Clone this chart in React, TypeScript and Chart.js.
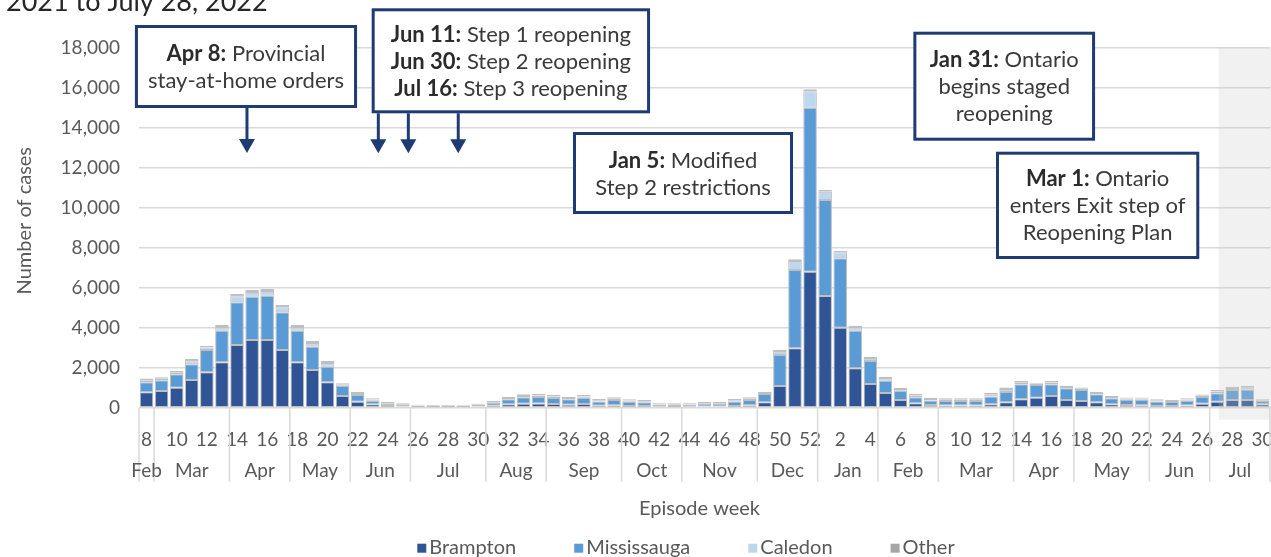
import React, { useEffect, useRef } from 'react';
import { Chart, registerables } from 'chart.js';

Chart.register(...registerables);

const FONT = 'Lato, "Open Sans", sans-serif';
const NAVY = '#1f3b73';
const TICK = '#595959';

// Episode weeks: 2021 week 8 .. 52, then 2022 week 1 .. 30
const weekLabels = [
  '8', '9', '10', '11', '12', '13', '14', '15', '16', '17', '18', '19', '20', '21', '22', '23', '24', '25', '26', '27',
  '28', '29', '30', '31', '32', '33', '34', '35', '36', '37', '38', '39', '40', '41', '42', '43', '44', '45', '46', '47',
  '48', '49', '50', '51', '52',
  '1', '2', '3', '4', '5', '6', '7', '8', '9', '10', '11', '12', '13', '14', '15', '16', '17', '18', '19', '20',
  '21', '22', '23', '24', '25', '26', '27', '28', '29', '30',
];

const brampton = [
  770, 830, 1000, 1380, 1770, 2270, 3130, 3380, 3380, 2880, 2270, 1880, 1270, 580, 300, 170, 90, 60, 40, 35,
  35, 40, 60, 100, 170, 200, 210, 190, 150, 180, 100, 120, 90, 80, 50, 40, 50, 60, 60, 90,
  120, 270, 1085, 2970, 6800,
  5580, 4000, 1970, 1180, 730, 380, 220, 130, 110, 110, 110, 170, 270, 420, 500, 580, 380, 330, 270, 170,
  130, 120, 90, 80, 110, 200, 300, 380, 380, 170,
];
const mississauga = [
  500, 540, 670, 790, 1110, 1580, 2140, 2170, 2220, 1890, 1580, 1170, 780, 520, 330, 180, 110, 80, 50, 45,
  45, 50, 70, 130, 250, 320, 330, 300, 270, 320, 210, 270, 210, 190, 110, 100, 110, 140, 140, 220,
  270, 410, 1550, 3910, 8200,
  4800, 3470, 1880, 1150, 620, 470, 300, 230, 220, 220, 220, 390, 520, 750, 630, 590, 590, 550, 400, 300,
  270, 280, 220, 200, 240, 330, 420, 500, 530, 160,
];
const caledon = [
  80, 80, 100, 150, 130, 180, 300, 230, 230, 250, 180, 180, 180, 70, 100, 60, 40, 30, 20, 15,
  15, 15, 20, 40, 60, 70, 70, 70, 60, 60, 60, 60, 60, 50, 40, 30, 40, 40, 40, 60,
  60, 60, 200, 460, 820,
  420, 300, 180, 150, 130, 90, 90, 70, 70, 70, 70, 110, 140, 100, 50, 90, 70, 70, 70, 60,
  60, 60, 60, 50, 60, 70, 90, 100, 110, 40,
];
const other = [
  110, 70, 80, 110, 90, 100, 110, 100, 100, 110, 100, 100, 100, 50, 70, 60, 60, 50, 40, 40,
  40, 40, 50, 60, 70, 80, 80, 70, 70, 70, 60, 70, 60, 60, 50, 50, 50, 60, 60, 60,
  70, 60, 60, 80, 100,
  80, 70, 70, 60, 70, 60, 70, 70, 70, 70, 70, 80, 80, 80, 40, 70, 60, 60, 60, 50,
  50, 50, 50, 50, 60, 60, 70, 70, 80, 50,
];

const seriesNames = ['Brampton', 'Mississauga', 'Caledon', 'Other'];
const seriesColors = ['#2F5597', '#5B9BD5', '#BDD7EE', '#A5A5A5'];

const monthLabels = ['Feb', 'Mar', 'Apr', 'May', 'Jun', 'Jul', 'Aug', 'Sep', 'Oct', 'Nov', 'Dec', 'Jan', 'Feb', 'Mar', 'Apr', 'May', 'Jun', 'Jul'];
const monthWeekCounts = [1, 5, 4, 4, 4, 5, 4, 5, 4, 5, 4, 4, 4, 5, 4, 5, 4, 4];

const yMax = 18000;
const yStep = 2000;

const titleText = '2021 to July 28, 2022';
const xTitle = 'Episode week';
const yTitle = 'Number of cases';

// index from which data are incomplete (shaded)
const shadeFromIndex = 71.1;

type Annot = {
  x0: number; x1: number; y0: number; y1: number;
  lines: [string, string][];
  arrows: { x: number; tip: number }[];
};

// positions in axis units (category index, case count)
const annotations: Annot[] = [
  {
    x0: -0.77, x1: 13.96, y0: 19135, y1: 14985,
    lines: [['Apr 8:', ' Provincial'], ['', 'stay-at-home orders']],
    arrows: [{ x: 6.66, tip: 12735 }],
  },
  {
    x0: 14.93, x1: 33.39, y0: 19970, y1: 14720,
    lines: [['Jun 11:', ' Step 1 reopening'], ['Jun 30:', ' Step 2 reopening'], ['Jul 16:', ' Step 3 reopening']],
    arrows: [{ x: 15.37, tip: 12720 }, { x: 17.36, tip: 12720 }, { x: 20.67, tip: 12720 }],
  },
  {
    x0: 28.28, x1: 42.87, y0: 13785, y1: 9685,
    lines: [['Jan 5:', ' Modified'], ['', 'Step 2 restrictions']],
    arrows: [],
  },
  {
    x0: 50.85, x1: 62.9, y0: 18800, y1: 13350,
    lines: [['Jan 31:', ' Ontario'], ['', 'begins staged'], ['', 'reopening']],
    arrows: [],
  },
  {
    x0: 56.33, x1: 69.81, y0: 12800, y1: 7435,
    lines: [['Mar 1:', ' Ontario'], ['', 'enters Exit step of'], ['', 'Reopening Plan']],
    arrows: [],
  },
];

const shadePlugin = {
  id: 'shade',
  afterDatasetsDraw(chart: any) {
    const { ctx, chartArea, scales } = chart;
    const x0 = scales.x.getPixelForValue(shadeFromIndex);
    ctx.save();
    ctx.fillStyle = 'rgba(200,200,200,0.25)';
    ctx.fillRect(x0, chartArea.top, chart.width - x0, chartArea.bottom - chartArea.top + 12);
    ctx.restore();
  },
};

const decorPlugin = {
  id: 'decor',
  afterDraw(chart: any) {
    const { ctx, chartArea, scales } = chart;
    const xs = scales.x;
    const ys = scales.y;
    const bottom = chartArea.bottom;
    ctx.save();

    // month separators
    ctx.strokeStyle = '#D9D9D9';
    ctx.lineWidth = 1.5;
    let start = 0;
    const bounds = [xs.getPixelForValue(-0.5)];
    monthWeekCounts.forEach((c) => {
      start += c;
      bounds.push(xs.getPixelForValue(start - 0.5));
    });
    bounds.forEach((b) => {
      ctx.beginPath();
      ctx.moveTo(b, bottom);
      ctx.lineTo(b, bottom + 74);
      ctx.stroke();
    });

    // month labels
    ctx.fillStyle = TICK;
    ctx.font = `19px ${FONT}`;
    ctx.textAlign = 'center';
    ctx.textBaseline = 'alphabetic';
    start = 0;
    monthLabels.forEach((m, i) => {
      const c = monthWeekCounts[i];
      ctx.fillText(m, xs.getPixelForValue(start + (c - 1) / 2), bottom + 69);
      start += c;
    });

    // axis titles
    ctx.font = `20px ${FONT}`;
    ctx.fillText(xTitle, (chartArea.left + chartArea.right) / 2 - 5, bottom + 107);
    ctx.save();
    ctx.translate(31, (chartArea.top + chartArea.bottom) / 2 - 7);
    ctx.rotate(-Math.PI / 2);
    ctx.fillText(yTitle, 0, 0);
    ctx.restore();

    // legend
    ctx.font = `20px ${FONT}`;
    ctx.textAlign = 'left';
    const sq = 9, gapT = 3, gapI = 58;
    const widths = seriesNames.map((n) => sq + gapT + ctx.measureText(n).width);
    const total = widths.reduce((a, b) => a + b, 0) + gapI * (seriesNames.length - 1);
    let lx = 686 - total / 2;
    const base = bottom + 146;
    seriesNames.forEach((n, i) => {
      ctx.fillStyle = seriesColors[i];
      ctx.fillRect(lx, base - 10, sq, sq);
      ctx.fillStyle = TICK;
      ctx.fillText(n, lx + sq + gapT, base);
      lx += widths[i] + gapI;
    });

    // title (cut at top)
    ctx.fillStyle = '#262626';
    ctx.font = `27px ${FONT}`;
    ctx.fillText(titleText, 6, 11);

    // annotations
    annotations.forEach((a) => {
      const px0 = xs.getPixelForValue(a.x0);
      const px1 = xs.getPixelForValue(a.x1);
      const py0 = ys.getPixelForValue(a.y0);
      const py1 = ys.getPixelForValue(a.y1);
      ctx.fillStyle = '#ffffff';
      ctx.fillRect(px0, py0, px1 - px0, py1 - py0);
      ctx.strokeStyle = NAVY;
      ctx.lineWidth = 3;
      ctx.strokeRect(px0 + 1.5, py0 + 1.5, px1 - px0 - 3, py1 - py0 - 3);

      const cx = (px0 + px1) / 2;
      const cy = (py0 + py1) / 2 + 1;
      const lh = 27;
      ctx.textBaseline = 'middle';
      ctx.textAlign = 'left';
      a.lines.forEach(([b, r], i) => {
        const y = cy + (i - (a.lines.length - 1) / 2) * lh;
        ctx.font = `bold 22px ${FONT}`;
        const wb = b ? ctx.measureText(b).width : 0;
        ctx.font = `22px ${FONT}`;
        const wr = ctx.measureText(r).width;
        let x = cx - (wb + wr) / 2;
        if (b) {
          ctx.font = `bold 22px ${FONT}`;
          ctx.fillStyle = '#2b2b2b';
          ctx.fillText(b, x, y);
          x += wb;
        }
        ctx.font = `22px ${FONT}`;
        ctx.fillStyle = '#3a3a3a';
        ctx.fillText(r, x, y);
      });

      a.arrows.forEach((ar) => {
        const ax = xs.getPixelForValue(ar.x);
        const tip = ys.getPixelForValue(ar.tip);
        ctx.strokeStyle = NAVY;
        ctx.lineWidth = 3;
        ctx.beginPath();
        ctx.moveTo(ax, py1);
        ctx.lineTo(ax, tip - 12);
        ctx.stroke();
        ctx.fillStyle = NAVY;
        ctx.beginPath();
        ctx.moveTo(ax - 8, tip - 14);
        ctx.lineTo(ax + 8, tip - 14);
        ctx.lineTo(ax, tip);
        ctx.closePath();
        ctx.fill();
      });
    });

    ctx.restore();
  },
};

export default function App() {
  const ref = useRef<HTMLCanvasElement>(null);

  useEffect(() => {
    document.body.style.margin = '0';
    const canvas = ref.current;
    if (!canvas) return;
    Chart.defaults.font.family = FONT;

    const seriesData = [brampton, mississauga, caledon, other];
    const chart = new Chart(canvas, {
      type: 'bar',
      data: {
        labels: weekLabels,
        datasets: seriesNames.map((name, i) => ({
          label: name,
          data: seriesData[i],
          backgroundColor: seriesColors[i],
          borderColor: '#BFBFBF',
          borderWidth: 1,
          borderSkipped: false,
          barPercentage: 0.9,
          categoryPercentage: 1.0,
        })),
      },
      options: {
        responsive: false,
        animation: false,
        devicePixelRatio: 1,
        layout: { padding: { left: 0, right: 1, top: 47.7, bottom: 0 } },
        plugins: {
          legend: { display: false },
          tooltip: { enabled: false },
          title: { display: false },
        },
        scales: {
          x: {
            stacked: true,
            grid: { display: false },
            border: { display: false },
            ticks: {
              autoSkip: false,
              maxRotation: 0,
              minRotation: 0,
              padding: 13,
              color: TICK,
              font: { size: 19, family: FONT },
              callback: (_v: any, i: number) => {
                const w = weekLabels[i];
                return Number(w) % 2 === 0 ? w : '';
              },
            },
            afterFit: (s: any) => {
              s.height = 557 - 407.7;
              s.paddingLeft = 0;
              s.paddingRight = 0;
            },
          },
          y: {
            stacked: true,
            min: 0,
            max: yMax,
            ticks: {
              stepSize: yStep,
              padding: 19,
              color: TICK,
              font: { size: 19, family: FONT },
              callback: (v: any) => Number(v).toLocaleString('en-US'),
            },
            grid: { color: '#D9D9D9', lineWidth: 1.5, drawTicks: false },
            border: { display: false },
            afterFit: (s: any) => {
              s.width = 139;
            },
          },
        },
      },
      plugins: [shadePlugin, decorPlugin],
    });
    return () => chart.destroy();
  }, []);

  return (
    <div style={{ width: 1271, height: 557, overflow: 'hidden', background: '#fff' }}>
      <canvas ref={ref} width={1271} height={557} style={{ display: 'block' }} />
    </div>
  );
}
